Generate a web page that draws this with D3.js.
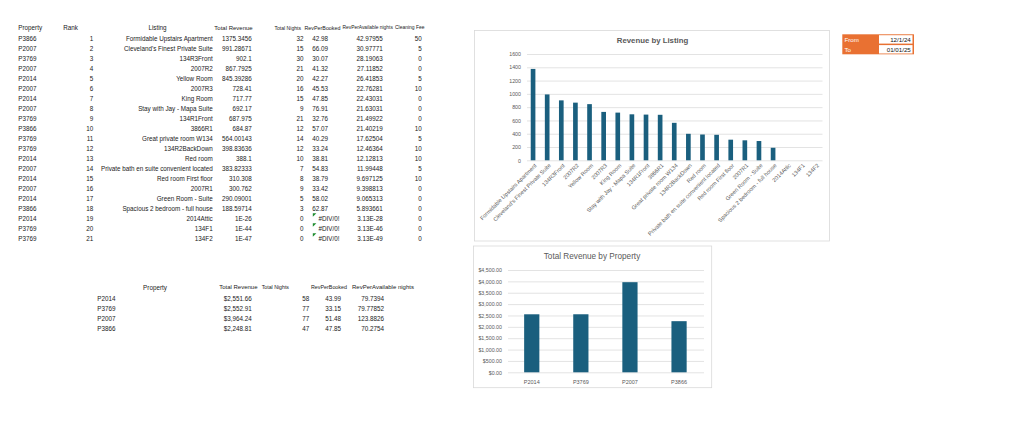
<!DOCTYPE html>
<html><head><meta charset="utf-8">
<script src="https://cdn.jsdelivr.net/npm/d3@7"></script>
<style>
html,body{margin:0;padding:0;background:#fff;}
svg{display:block;font-family:"Liberation Sans",Arial,sans-serif;}
</style></head>
<body><svg id="c" width="1024" height="426"></svg>
<script>
// ---------- data ----------
const headers = ["Property","Rank","Listing","Total Revenue","Total Nights","RevPerBooked","RevPerAvailable nights","Cleaning Fee"];
const properties = ["P3866","P2007","P3769","P2007","P2014","P2007","P2014","P2007","P3769","P3866","P3769","P3769","P2014","P2007","P2014","P2007","P2014","P3866","P2014","P3769","P3769"];
const ranks = [1,2,3,4,5,6,7,8,9,10,11,12,13,14,15,16,17,18,19,20,21];
const listings = ["Formidable Upstairs Apartment","Cleveland's Finest Private Suite","134R3Front","2007R2","Yellow Room","2007R3","King Room","Stay with Jay - Mapa Suite","134R1Front","3866R1","Great  private room W134","134R2BackDown","Red room","Private bath en suite convenient located","Red room First floor","2007R1","Green Room - Suite","Spacious 2 bedroom - full house","2014Attic","134F1","134F2"];
const totalRevenue = ["1375.3456","991.28671","902.1","867.7925","845.39286","728.41","717.77","692.17","687.975","684.87","564.00143","398.83636","388.1","383.82333","310.308","300.762","290.09001","188.59714","1E-26","1E-44","1E-47"];
const totalNights = [32,15,30,21,20,16,15,9,21,12,14,12,10,7,8,9,5,3,0,0,0];
const revPerBooked = ["42.98","66.09","30.07","41.32","42.27","45.53","47.85","76.91","32.76","57.07","40.29","33.24","38.81","54.83","38.79","33.42","58.02","62.87","#DIV/0!","#DIV/0!","#DIV/0!"];
const revPerAvailable = ["42.97955","30.97771","28.19063","27.11852","26.41853","22.76281","22.43031","21.63031","21.49922","21.40219","17.62504","12.46364","12.12813","11.99448","9.697125","9.398813","9.065313","5.893661","3.13E-28","3.13E-46","3.13E-49"];
const cleaningFee = [50,5,0,0,5,10,0,0,0,10,5,10,10,5,10,0,0,0,0,0,0];

const sumHeaders = ["Property","Total Revenue","Total Nights","RevPerBooked","RevPerAvailable nights"];
const sumProps = ["P2014","P3769","P2007","P3866"];
const sumRevenue = [2551.66, 2552.91, 3964.24, 2248.81];
const sumNights = [58,77,77,47];
const sumRevPerBook = ["43.99","33.15","51.48","47.85"];
const sumRevPerAvail = ["79.7394","79.77852","123.8826","70.2754"];

const dateLabels = ["From","To"];
const dateValues = ["12/1/24","01/01/25"];

const chart1Title = "Revenue by Listing";
const chart2Title = "Total Revenue by Property";

// ---------- drawing ----------
const svg = d3.select("#c");
const TXT = "#1a1a1a", AX = "#595959", GRID = "#d9d9d9", BAR = "#1a5f7e", ORANGE = "#e97132";
const fs = 6.3;

function text(g, x, y, s, anchor, opts={}) {
  return g.append("text").attr("x", x).attr("y", y).attr("text-anchor", anchor)
    .attr("dominant-baseline","central").attr("font-size", opts.size || fs)
    .attr("fill", opts.fill || TXT).attr("font-weight", opts.weight || "normal").text(s);
}
// header shrunk (if needed) to fit the visible span of its cell
function fit(g, x0, x1, y, s, maxSize = 6.0) {
  const t = text(g, x0, y, s, "start", {size: maxSize});
  const w = t.node().getComputedTextLength();
  const span = x1 - x0;
  if (w > span) t.attr("font-size", (maxSize * span / w).toFixed(2));
  else t.attr("x", x0 + (span - w) / 2);
  return t;
}

// main table
const tbl = svg.append("g");
const hy = 27.5;
text(tbl, 18.3, hy, headers[0], "start");
text(tbl, 63.3, hy, headers[1], "start");
text(tbl, 157.5, hy, headers[2], "middle");
fit(tbl, 213, 254, hy, headers[3]);
fit(tbl, 274.5, 301, hy, headers[4]);
fit(tbl, 304.5, 340.5, hy, headers[5]);
fit(tbl, 342.5, 393, hy, headers[6]);
fit(tbl, 395, 424.5, hy, headers[7]);

const rowY = i => 38.8 + i * 9.97;
properties.forEach((p, i) => {
  const y = rowY(i);
  text(tbl, 18.3, y, p, "start");
  text(tbl, 93.3, y, ranks[i], "end");
  text(tbl, 212.7, y, listings[i], "end");
  text(tbl, 251.7, y, totalRevenue[i], "end");
  text(tbl, 303.5, y, totalNights[i], "end");
  if (revPerBooked[i] === "#DIV/0!") {
    const ty = y - 5;
    tbl.append("path").attr("d", `M312.8,${ty} h3.6 L312.8,${ty+3.6} Z`).attr("fill", "#1e8c2e");
    text(tbl, 318.5, y, revPerBooked[i], "start");
  } else {
    text(tbl, 328, y, revPerBooked[i], "end");
  }
  text(tbl, 382.7, y, revPerAvailable[i], "end");
  text(tbl, 421.7, y, cleaningFee[i], "end");
});

// summary table
const st = svg.append("g");
const shy = 287;
text(st, 155, shy, sumHeaders[0], "middle");
fit(st, 216.7, 260, shy, sumHeaders[1]);
fit(st, 261.7, 289, shy, sumHeaders[2]);
fit(st, 311, 347, shy, sumHeaders[3]);
fit(st, 349, 417, shy, sumHeaders[4]);
const money = d3.format("$,.2f");
sumProps.forEach((p, i) => {
  const y = 298 + i * 10;
  text(st, 97.3, y, p, "start");
  text(st, 251.7, y, money(sumRevenue[i]), "end");
  text(st, 309.3, y, sumNights[i], "end");
  text(st, 341, y, sumRevPerBook[i], "end");
  text(st, 384, y, sumRevPerAvail[i], "end");
});

// ---------- chart 1 ----------
const c1 = svg.append("g");
c1.append("rect").attr("x", 474.5).attr("y", 30.5).attr("width", 355).attr("height", 210.5)
  .attr("fill", "#fff").attr("stroke", GRID).attr("stroke-width", 0.8);
text(c1, 652.5, 40.7, chart1Title, "middle", {size: 7.8, weight: "bold", fill: AX});
const vals1 = totalRevenue.map(Number);
const x1 = d3.scaleBand().domain(d3.range(listings.length)).range([526, 822.5]).paddingInner(0.67).paddingOuter(0.335);
const y1 = d3.scaleLinear().domain([0, 1600]).range([160.3, 54]);
const ax1 = c1.append("g").attr("transform", "translate(527,0)")
  .call(d3.axisLeft(y1).ticks(8).tickSize(-(822.5 - 527)).tickPadding(6).tickFormat(d3.format("d")));
ax1.select(".domain").remove();
ax1.selectAll("line").attr("stroke", GRID).attr("stroke-width", 0.75);
ax1.selectAll("text").attr("font-size", 5.3).attr("fill", AX).attr("font-family", "Liberation Sans");
c1.selectAll("rect.bar").data(vals1).join("rect").attr("class", "bar")
  .attr("x", (d, i) => x1(i)).attr("width", x1.bandwidth())
  .attr("y", d => y1(d)).attr("height", d => y1(0) - y1(d)).attr("fill", BAR);
c1.selectAll("text.xl").data(listings).join("text").attr("class", "xl")
  .attr("transform", (d, i) => `translate(${x1(i) + x1.bandwidth() / 2 + 2.5},${164.5}) rotate(-45)`)
  .attr("text-anchor", "end").attr("dominant-baseline", "central")
  .attr("font-size", 5.6).attr("fill", AX).text(d => d);

// ---------- chart 2 ----------
const c2 = svg.append("g");
c2.append("rect").attr("x", 473.5).attr("y", 246).attr("width", 238.2).attr("height", 141.7)
  .attr("fill", "#fff").attr("stroke", GRID).attr("stroke-width", 0.8);
text(c2, 592, 256.7, chart2Title, "middle", {size: 8.2, fill: AX});
const x2 = d3.scaleBand().domain(sumProps).range([507.2, 703.6]).paddingInner(0.69).paddingOuter(0.345);
const y2 = d3.scaleLinear().domain([0, 4500]).range([372.3, 270]);
const ax2 = c2.append("g").attr("transform", "translate(508,0)")
  .call(d3.axisLeft(y2).ticks(9).tickSize(-(704 - 508)).tickPadding(6).tickFormat(money));
ax2.select(".domain").remove();
ax2.selectAll("line").attr("stroke", GRID).attr("stroke-width", 0.75);
ax2.selectAll("text").attr("font-size", 5.3).attr("fill", AX).attr("font-family", "Liberation Sans");
c2.selectAll("rect.bar").data(sumRevenue).join("rect").attr("class", "bar")
  .attr("x", (d, i) => x2(sumProps[i])).attr("width", x2.bandwidth())
  .attr("y", d => y2(d)).attr("height", d => y2(0) - y2(d)).attr("fill", BAR);
const ax2b = c2.append("g").attr("transform", "translate(0,372.3)")
  .call(d3.axisBottom(x2).tickSize(0).tickPadding(7.5));
ax2b.select(".domain").remove();
ax2b.selectAll("text").attr("font-size", 5.5).attr("fill", AX).attr("font-family", "Liberation Sans");

// ---------- date box ----------
const db = svg.append("g");
db.append("rect").attr("x", 842.3).attr("y", 34.3).attr("width", 71.7).attr("height", 20).attr("fill", ORANGE);
dateLabels.forEach((l, i) => {
  const y = 39.2 + i * 10;
  db.append("rect").attr("x", 879).attr("y", 35.2 + i * 9.9).attr("width", 33.5).attr("height", 8.4).attr("fill", "#fff");
  text(db, 844.5, y, l, "start", {fill: "#fff", size: 6.2});
  text(db, 910.8, y, dateValues[i], "end", {size: 6.2, fill: "#111"});
});
</script></body></html>
